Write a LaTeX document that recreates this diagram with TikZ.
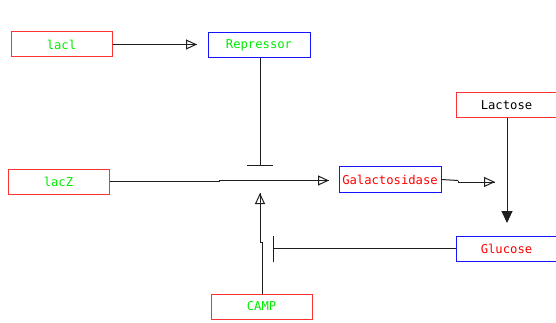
\documentclass[tikz,border=0pt]{standalone}
\usepackage{fontspec}
\newfontfamily\boxfont{DejaVu Sans Mono}
\usetikzlibrary{arrows.meta}
\definecolor{boxred}{RGB}{255,50,50}
\definecolor{boxblue}{RGB}{20,20,255}
\definecolor{txtgreen}{RGB}{0,235,0}
\definecolor{txtred}{RGB}{255,0,0}
\definecolor{linec}{RGB}{30,30,30}
\tikzset{
  gene/.style={draw=boxred, line width=1pt, minimum width=101pt, minimum height=25pt, inner sep=0pt, font=\boxfont\fontsize{12.2}{12}\selectfont},
  prot/.style={draw=boxblue, line width=1pt, minimum width=102pt, minimum height=25pt, inner sep=0pt, font=\boxfont\fontsize{12.2}{12}\selectfont},
  conn/.style={draw=linec, line width=1pt},
  openarrow/.style={conn, -{Triangle[open, length=11pt, width=10pt, line width=1pt]}, postaction={draw=linec, line width=1pt, -}},
  fillarrow/.style={conn, -{Triangle[length=12pt, width=11pt]}},
  inhib/.style={conn, -{Bar[width=26pt, line width=1pt]}},
}
\begin{document}
\begin{tikzpicture}[x=1pt, y=-1pt]
\useasboundingbox (0,0) rectangle (556,323);
\begin{scope}
\clip (0,0) rectangle (556,323);
\node[gene, text=txtgreen] (lacI) at (61.5,44.5) {lacl};
\node[prot, text=txtgreen] (rep) at (259,45.5) {Repressor};
\node[gene, text=txtgreen] (lacZ) at (58.5,181.5) {lacZ};
\node[prot, text=txtred, minimum height=26pt] (gal) at (390,179.5) {Galactosidase};
\node[gene, text=black] (lac) at (506.5,105) {Lactose};
\node[prot, text=txtred, minimum width=101pt] (glu) at (506.5,248.5) {Glucose};
\node[gene, text=txtgreen] (camp) at (261.5,306.5) {CAMP};
\end{scope}
\coordinate (t1) at (197,44.5);
\coordinate (b1) at (260,166);
\coordinate (j1) at (219,181.5);
\coordinate (t2) at (329,180.5);
\coordinate (j2) at (458,180.5);
\coordinate (t3) at (495,182);
\coordinate (t4) at (507,223);
\coordinate (b2) at (273,248.5);
\coordinate (j3) at (262,242);
\coordinate (j4) at (260,242);
\coordinate (t5) at (260,193);
\draw[openarrow] (lacI.east) -- (t1);
\draw[inhib] (rep.south -| b1) -- (b1);
\draw[conn] (lacZ.east) -- (j1);
\draw[openarrow] (j1) |- (t2);
\draw[conn] (gal.east) -- (j2);
\draw[openarrow] (j2) |- (t3);
\draw[fillarrow] (lac.south -| t4) -- (t4);
\draw[inhib] (glu.west) -- (b2);
\draw[conn] (camp.north -| j3) -- (j3);
\draw[openarrow] (j3) -| (t5);
\end{tikzpicture}
\end{document}
